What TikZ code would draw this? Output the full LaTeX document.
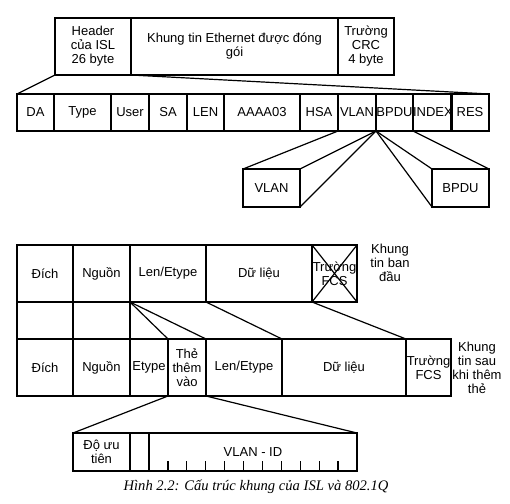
\documentclass[tikz,border=0pt]{standalone}
\usepackage{fontspec}
\setmainfont{Liberation Sans}
\newfontfamily\capfont{Liberation Serif}

\begin{document}
\begin{tikzpicture}[x=1pt,y=-1pt,line width=1.2pt,
  cell/.style={draw,anchor=north west,inner sep=0pt,outer sep=0pt,
    align=center,font=\fontsize{13}{14}\selectfont},
  note/.style={align=center,inner sep=0pt,font=\fontsize{13}{14}\selectfont}]

\useasboundingbox (0,0) rectangle (510,503);

% Khung ISL
\node[cell,minimum width=76,minimum height=57] (hdr) at (55,18) {Header\\của ISL\\26 byte};
\node[cell,minimum width=207,minimum height=57] (eth) at (131,18) {Khung tin Ethernet được đóng\\gói};
\node[cell,minimum width=56,minimum height=57] (crc) at (338,18) {Trường\\CRC\\4 byte};

% Các trường của header ISL
\foreach \x/\w/\n/\t in {17/37/da/DA, 54/57/type/Type, 111/38/user/User,
    149/38/sa/SA, 187/37/len/LEN, 224/76/aaaa/AAAA03, 300/38/hsa/HSA,
    338/38/vlan/VLAN, 376/37/bpdu/BPDU, 413/38/index/INDEX, 451/38/res/RES} {
  \node[cell,minimum width=\w,minimum height=37] (\n) at (\x,94) {\t};
}

\node[cell,minimum width=57,minimum height=38] (vlanz) at (243,169) {VLAN};
\node[cell,minimum width=57,minimum height=38] (bpduz) at (432,169) {BPDU};

% Đường mở rộng
\draw (hdr.south west) -- (da.north west);
\draw (eth.south west) -- (res.north east);
\draw (vlan.south west) -- (vlanz.north west);
\draw (bpdu.south west) -- (vlanz.north east);
\draw (bpdu.south west) -- (vlanz.south east);
\draw (bpdu.south west) -- (bpduz.north west);
\draw (bpdu.south west) -- (bpduz.south west);
\draw (index.south west) -- (bpduz.north east);

% Khung tin ban đầu
\node[cell,minimum width=56,minimum height=57] (dich1) at (17,245) {Đích};
\node[cell,minimum width=57,minimum height=57] (nguon1) at (73,245) {Nguồn};
\node[cell,minimum width=76,minimum height=57] (len1) at (130,245) {Len/Etype};
\node[cell,minimum width=106,minimum height=57] (data1) at (206,245) {Dữ liệu};
\node[cell,minimum width=45,minimum height=57] (fcs1) at (312,245) {Trường\\FCS};
\draw (fcs1.north west) -- (fcs1.south east);
\draw (fcs1.south west) -- (fcs1.north east);
\node[note] (orig) at (390,263) {Khung\\tin ban\\đầu};

\node[cell,minimum width=56,minimum height=37] (gap1) at (17,302) {};
\node[cell,minimum width=57,minimum height=37] (gap2) at (73,302) {};

% Khung tin sau khi thêm thẻ
\node[cell,minimum width=56,minimum height=57] (dich2) at (17,339) {Đích};
\node[cell,minimum width=57,minimum height=57] (nguon2) at (73,339) {Nguồn};
\node[cell,minimum width=38,minimum height=57] (etype) at (130,339) {Etype};
\node[cell,minimum width=38,minimum height=57] (tag) at (168,339) {Thẻ\\thêm\\vào};
\node[cell,minimum width=76,minimum height=57] (len2) at (206,339) {Len/Etype};
\node[cell,minimum width=124,minimum height=57] (data2) at (282,339) {Dữ liệu};
\node[cell,minimum width=45,minimum height=57] (fcs2) at (406,339) {Trường\\FCS};
\node[note] (tagged) at (477,368) {Khung\\tin sau\\khi thêm\\thẻ};

\draw (len1.south west) -- (etype.north east);
\draw (len1.south west) -- (tag.north east);
\draw (data1.south west) -- (len2.north east);
\draw (fcs1.south west) -- (data2.north east);

% Thẻ 802.1Q
\node[cell,minimum width=57,minimum height=38] (prio) at (73,433) {Độ ưu\\tiên};
\node[cell,minimum width=19,minimum height=38] (cfi) at (130,433) {};
\node[cell,minimum width=208,minimum height=38] (vid) at (149,433) {VLAN - ID};
\foreach \k in {1,...,10} {
  \draw ([xshift=\k*18.9pt]vid.south west) -- ++(0,-10);
}
\draw (tag.south west) -- (prio.north west);
\draw (tag.south east) -- (vid.north east);

\node[font=\capfont\itshape\fontsize{14.6}{16}\selectfont] (caption) at (256,487)
  {Hình 2.2: Cấu trúc khung của ISL và 802.1Q};

\end{tikzpicture}
\end{document}
